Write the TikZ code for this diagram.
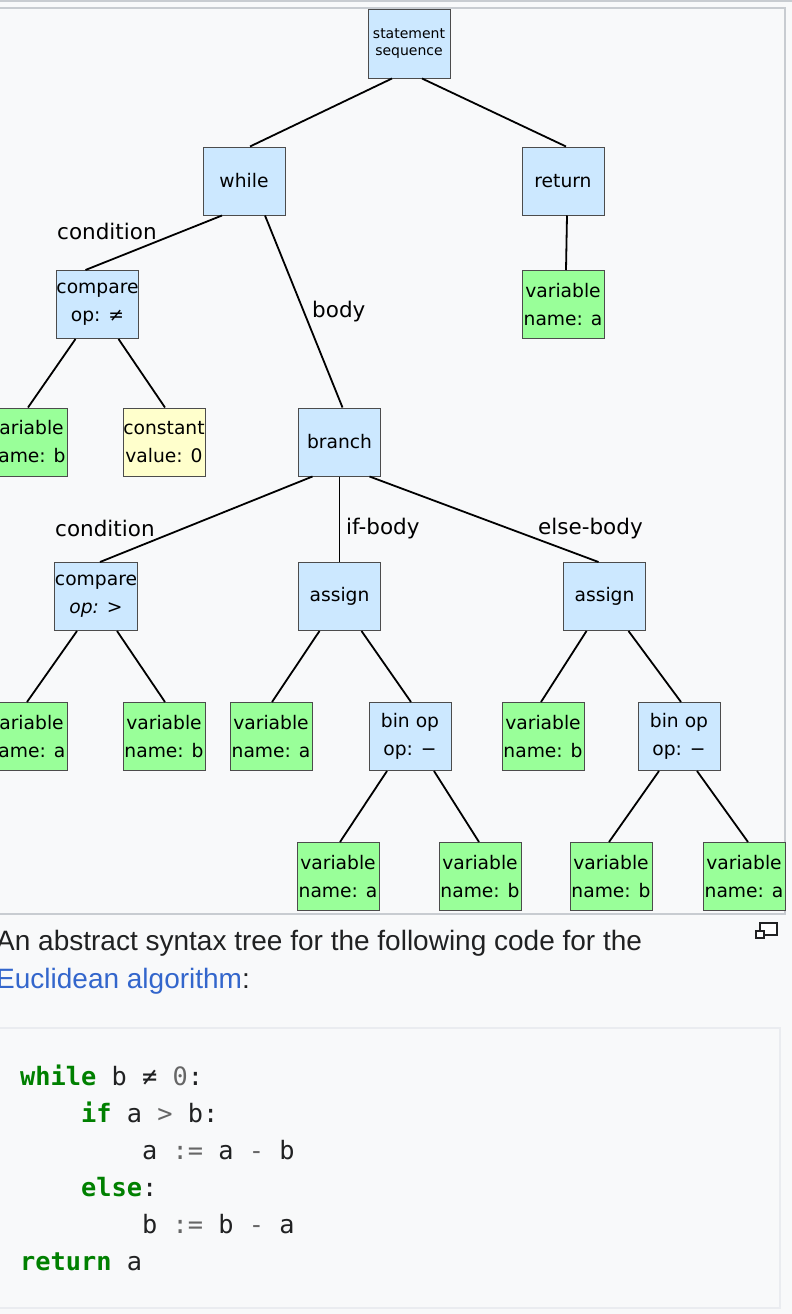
\documentclass[tikz,border=0pt]{standalone}
\usepackage{fontspec}
\setmainfont{DejaVu Sans}
\setmonofont{DejaVu Sans Mono}
\newfontfamily\capfont{Liberation Sans}
\usepackage{xcolor}
\definecolor{pagebg}{HTML}{F8F9FA}
\definecolor{framegray}{HTML}{C8CCD1}
\definecolor{codeborder}{HTML}{EAECF0}
\definecolor{stmtblue}{HTML}{CCE8FF}
\definecolor{vargreen}{HTML}{99FF99}
\definecolor{constyellow}{HTML}{FFFFCC}
\definecolor{inkgray}{HTML}{202122}
\definecolor{linkblue}{HTML}{3366CC}
\definecolor{kwgreen}{HTML}{008000}
\definecolor{opgray}{HTML}{666666}

\begin{document}
\begin{tikzpicture}[x=1pt,y=-1pt]
		\tikzstyle{treebox}=[draw=black!70, line width=1pt, minimum width=82pt, minimum height=68pt, inner sep=0pt, align=center, font=\fontsize{18.7}{28}\selectfont]
		\tikzstyle{stmtnode}=[treebox, fill=stmtblue]
		\tikzstyle{varnode}=[treebox, fill=vargreen]
		\tikzstyle{constnode}=[treebox, fill=constyellow]
		\tikzstyle{treeedge}=[draw, line width=1.8pt, black]
		\tikzstyle{edgelabel}=[anchor=base west, inner sep=0pt, font=\fontsize{21.5}{26}\selectfont]
		\tikzstyle{caption}=[anchor=base west, inner sep=0pt, text=inkgray, font=\capfont\fontsize{28}{37}\selectfont]
		\tikzstyle{codeline}=[anchor=base west, inner sep=0pt, text=inkgray, font=\ttfamily\fontsize{25.3}{37}\selectfont]

		\useasboundingbox (0,0) rectangle (792,1314);
		\clip (0,0) rectangle (792,1314);
		\fill[pagebg] (0,0) rectangle (792,1314);
		\fill[framegray] (0,0) rectangle (792,2.5);
		\draw[framegray, line width=2pt, fill=pagebg] (-5,8.5) rectangle (785,913.5);

		\node[stmtnode, font=\fontsize{14}{17}\selectfont] (seq) at (409,44) {statement\\sequence};
		\node[stmtnode] (while) at (244,181) {while};
		\node[stmtnode] (ret) at (563,181) {return};
		\node[stmtnode] (cmpne) at (97.5,304.5) {compare\\op: ≠};
		\node[varnode] (retvar) at (563,304.5) {variable\\name: a};
		\node[varnode] (nevar) at (26,442) {variable\\name: b};
		\node[constnode] (zero) at (164,442) {constant\\value: 0};
		\node[stmtnode] (branch) at (339.5,442) {branch};
		\node[stmtnode] (cmpgt) at (96,596.5) {compare\\\textit{op: >}};
		\node[stmtnode] (asgif) at (339.5,596.5) {assign};
		\node[stmtnode] (asgelse) at (604.5,596.5) {assign};
		\node[varnode] (gtleft) at (26,736.5) {variable\\name: a};
		\node[varnode] (gtright) at (164,736.5) {variable\\name: b};
		\node[varnode] (ifdst) at (271,736.5) {variable\\name: a};
		\node[stmtnode] (ifsub) at (410,736.5) {bin op\\op: −};
		\node[varnode] (elsedst) at (543,736.5) {variable\\name: b};
		\node[stmtnode] (elsesub) at (679,736.5) {bin op\\op: −};
		\node[varnode] (ifsubl) at (338,876.5) {variable\\name: a};
		\node[varnode] (ifsubr) at (480,876.5) {variable\\name: b};
		\node[varnode] (elsesubl) at (611,876.5) {variable\\name: b};
		\node[varnode] (elsesubr) at (744,876.5) {variable\\name: a};

		\draw[treeedge] ([xshift=-17pt]seq.south) -- ([xshift=6pt]while.north);
		\draw[treeedge] ([xshift=13pt]seq.south) -- ([xshift=3pt]ret.north);
		\draw[treeedge] ([xshift=-22pt]while.south) -- ([xshift=-12pt]cmpne.north);
		\draw[treeedge] ([xshift=21pt]while.south) -- ([xshift=3pt]branch.north);
		\draw[treeedge] ([xshift=4pt]ret.south) -- ([xshift=3pt]retvar.north);
		\draw[treeedge] ([xshift=-22pt]cmpne.south) -- ([xshift=2pt]nevar.north);
		\draw[treeedge] ([xshift=21pt]cmpne.south) -- ([xshift=1pt]zero.north);
		\draw[treeedge] ([xshift=-27pt]branch.south) -- ([xshift=4pt]cmpgt.north);
		\draw[treeedge] (branch.south) -- (asgif.north);
		\draw[treeedge] ([xshift=30pt]branch.south) -- ([xshift=-6pt]asgelse.north);
		\draw[treeedge] ([xshift=-19pt]cmpgt.south) -- ([xshift=1pt]gtleft.north);
		\draw[treeedge] ([xshift=21pt]cmpgt.south) -- ([xshift=1pt]gtright.north);
		\draw[treeedge] ([xshift=-20pt]asgif.south) -- ([xshift=1pt]ifdst.north);
		\draw[treeedge] ([xshift=22pt]asgif.south) -- ([xshift=1pt]ifsub.north);
		\draw[treeedge] ([xshift=-18pt]asgelse.south) -- ([xshift=-2pt]elsedst.north);
		\draw[treeedge] ([xshift=24pt]asgelse.south) -- ([xshift=2pt]elsesub.north);
		\draw[treeedge] ([xshift=-23pt]ifsub.south) -- ([xshift=2pt]ifsubl.north);
		\draw[treeedge] ([xshift=24pt]ifsub.south) -- ([xshift=-1pt]ifsubr.north);
		\draw[treeedge] ([xshift=-20pt]elsesub.south) -- ([xshift=-2pt]elsesubl.north);
		\draw[treeedge] ([xshift=18pt]elsesub.south) -- ([xshift=4pt]elsesubr.north);

		\node[edgelabel] (whilecond) at (57,239) {condition};
		\node[edgelabel] (whilebody) at (312,317) {body};
		\node[edgelabel] (branchcond) at (55,536) {condition};
		\node[edgelabel] (ifbody) at (346,534) {if-body};
		\node[edgelabel] (elsebody) at (538,534) {else-body};

		\node[caption] (cap1) at (-4,950) {An abstract syntax tree for the following code for the};
		\node[caption] (cap2) at (-4,988) {\textcolor{linkblue}{Euclidean algorithm}:};
		\draw[inkgray, line width=1.5pt, fill=white] (760,923) rectangle (777,935);
		\draw[inkgray, line width=1.5pt, fill=white] (756,931) rectangle (764,938);

		\draw[codeborder, line width=2pt, fill=pagebg] (-5,1028) rectangle (780,1308);
		\node[codeline] (line1) at (20,1085) {\textcolor{kwgreen}{\bfseries while} b ≠ \textcolor{opgray}{0}:};
		\node[codeline] (line2) at (81,1122) {\textcolor{kwgreen}{\bfseries if} a \textcolor{opgray}{>} b:};
		\node[codeline] (line3) at (142,1159) {a \textcolor{opgray}{:=} a \textcolor{opgray}{-} b};
		\node[codeline] (line4) at (81,1196) {\textcolor{kwgreen}{\bfseries else}:};
		\node[codeline] (line5) at (142,1233) {b \textcolor{opgray}{:=} b \textcolor{opgray}{-} a};
		\node[codeline] (line6) at (20,1270) {\textcolor{kwgreen}{\bfseries return} a};
	\end{tikzpicture}
\end{document}
